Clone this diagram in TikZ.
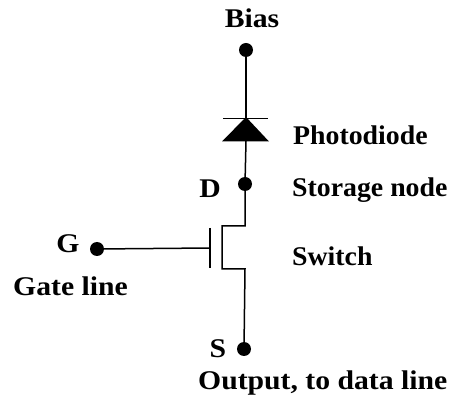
\documentclass[tikz,border=0pt]{standalone}
\usepackage{fontspec}
\setmainfont[FakeStretch=1.1]{Liberation Serif}
\newfontfamily\narrowfam[FakeStretch=1.03]{Liberation Serif}
\begin{document}
\begin{tikzpicture}[x=1pt,y=-1pt,
  terminal/.style={circle,fill=black,inner sep=0pt,minimum size=14pt},
  wire/.style={line width=1.5pt,line join=miter},
  lbl/.style={inner sep=0pt,font=\fontsize{27}{30}\selectfont\bfseries},
  lblleft/.style={lbl,anchor=base west},
  lblright/.style={inner sep=0pt,anchor=base west,font=\narrowfam\fontsize{27}{30}\selectfont\bfseries}]
\useasboundingbox (0,0) rectangle (456,398);
\node[terminal] (bias) at (246,50) {};
\node[terminal] (d) at (245,184) {};
\node[terminal] (s) at (244,349) {};
\node[terminal] (g) at (97,249) {};
\coordinate (dtop) at (246,118);
\coordinate (dbot) at (246,141);
\coordinate (j1) at (245,226);
\coordinate (j2) at (222,226);
\coordinate (j3) at (222,269);
\coordinate (j4) at (245,269);
\coordinate (gate) at (210,248);
\draw[wire] (bias) -- (dtop);
\draw[wire] (dbot) -- (d);
\draw[wire] (d) -- (j1) -- (j2) -- (j3) -- (j4) -- (s);
\draw[wire] (g) -- (gate);
\draw[wire] (210,228) -- (210,268);
\draw[wire] (223,118.5) -- (268,118.5);
\fill (246,117) -- (269,141.5) -- (222,141.5) -- cycle;
\node[lbl,anchor=base] (tbias) at (252,28) {Bias};
\node[lblright] (tphoto) at (293,145) {Photodiode};
\node[lbl,anchor=base] (td) at (210,198) {D};
\node[lblright] (tstore) at (292,197) {Storage node};
\node[lblright] (tswitch) at (292,266) {Switch};
\node[lbl,anchor=base] (tg) at (68,253) {G};
\node[lblleft] (tgate) at (13,296) {Gate line};
\node[lbl,anchor=base] (ts) at (218,358) {S};
\node[lblleft] (tout) at (198,390) {Output, to data line};
\end{tikzpicture}
\end{document}
